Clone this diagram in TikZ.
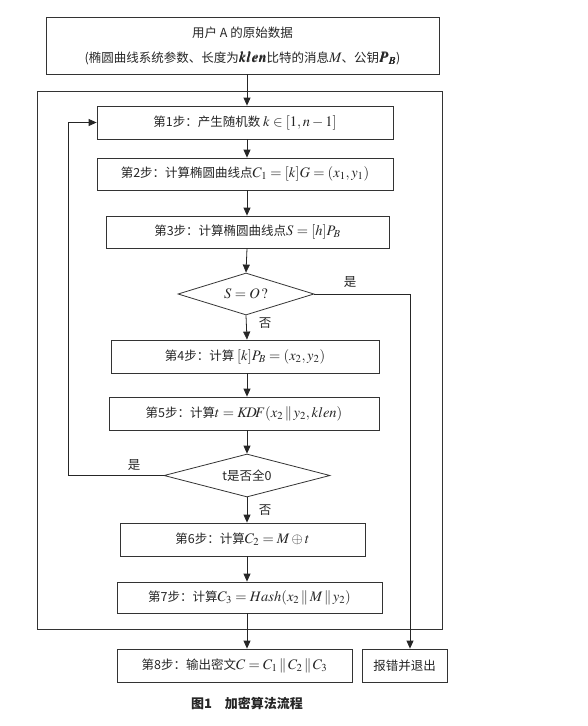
\documentclass[tikz,border=0pt]{standalone}
\usepackage{mathptmx}
\usepackage{bm}
\usepackage{fontspec}
\setmainfont{Noto Sans CJK SC}
\usetikzlibrary{positioning}
\usetikzlibrary{arrows.meta}
\usetikzlibrary{shapes.geometric}

\begin{document}
\begin{tikzpicture}[x=1pt,y=-1pt,
  stepbox/.style={draw=black!80,line width=0.8pt,inner sep=0pt,anchor=center,
    font=\fontsize{12.5}{15}\selectfont,text=black!85},
  decision/.style={draw=black!80,line width=0.8pt,diamond,inner sep=0pt,anchor=center,
    font=\fontsize{12.5}{15}\selectfont,text=black!85},
  arr/.style={line width=0.8pt,draw=black!85,-{Triangle[length=8pt,width=7pt]}},
  lab/.style={font=\fontsize{12.5}{15}\selectfont,text=black!85,anchor=center}]

\useasboundingbox (0,0) rectangle (588,726);

\def\sep{\,\|\,}
\def\mth#1{{\fontsize{14.5}{15}\selectfont$#1$}}

% input data
\node[stepbox,minimum width=393,minimum height=57,align=center,
  font=\fontsize{12.5}{25}\selectfont] (input) at (242.5,45.5)
  {用户 A 的原始数据\\(椭圆曲线系统参数、长度为\mth{\bm{klen}}比特的消息\mth{M}、公钥\mth{\bm{P_B}})};

% frame round the loop
\draw[draw=black!80,line width=0.8pt] (37,91) rectangle (442,629);

\coordinate (spine) at (247,0);
\coordinate (loop) at (68,0);
\coordinate (yesline) at (410,0);

\node[stepbox,minimum width=296,minimum height=33] (S1) at (245,122.5)
  {第1步：产生随机数 \mth{k\in[1,n-1]}};
\node[stepbox,minimum width=296,minimum height=32] (S2) at (245,174)
  {第2步：计算椭圆曲线点\mth{C_1=[k]G=(x_1,y_1)}};
\node[stepbox,minimum width=283,minimum height=32] (S3) at (247.5,232)
  {第3步：计算椭圆曲线点\mth{S=[h]P_B}};
\node[decision,minimum width=136,minimum height=42,aspect=3.2] (D1) at (246,294)
  {\mth{S=O\,?}};
\node[stepbox,minimum width=268,minimum height=33] (S4) at (245,356.5)
  {第4步：计算 \mth{[k]P_B=(x_2,y_2)}};
\node[stepbox,minimum width=270,minimum height=33] (S5) at (244,413.5)
  {第5步：计算\mth{t=K\!D\!F(x_2\sep y_2,klen)}};
\node[decision,minimum width=166,minimum height=43,aspect=3.9] (D2) at (247,475.5)
  {t是否全0};
\node[stepbox,minimum width=245,minimum height=33] (S6) at (242.5,539.5)
  {第6步：计算\mth{C_2=M\oplus t}};
\node[stepbox,minimum width=265,minimum height=31] (S7) at (249.5,597.5)
  {第7步：计算\mth{C_3=Hash(x_2\sep M\sep y_2)}};
\node[stepbox,minimum width=235,minimum height=33] (S8) at (234.5,665.5)
  {第8步：输出密文\mth{C=C_1\sep C_2\sep C_3}};
\node[stepbox,minimum width=85,minimum height=33] (quit) at (404.5,665.5)
  {报错并退出};

% labels
\node[lab] (yes1) at (350,282) {是};
\node[lab] (no1) at (265,323) {否};
\node[lab] (yes2) at (134,465) {是};
\node[lab] (no2) at (265,510) {否};
\node[lab,font=\fontsize{13}{15}\selectfont\bfseries] (caption) at (247,703) {图1\quad 加密算法流程};

% main flow
\draw[arr] (input.south -| spine) -- (S1.north -| spine);
\draw[arr] (S1.south -| spine) -- (S2.north -| spine);
\draw[arr] (S2.south -| spine) -- (S3.north -| spine);
\draw[arr] (S3.south -| spine) -- (D1.north);
\draw[arr] (D1.south) -- (S4.north -| spine);
\draw[arr] (S4.south -| spine) -- (S5.north -| spine);
\draw[arr] (S5.south -| spine) -- (D2.north);
\draw[arr] (D2.south) -- (S6.north -| spine);
\draw[arr] (S6.south -| spine) -- (S7.north -| spine);
\draw[arr] (S7.south -| spine) -- (S8.north -| spine);

% branches
\draw[arr] (D1.east) -| (yesline |- D1.east) -- (quit.north -| yesline);
\draw[arr] (D2.west) -| (loop |- S1.west) -- (S1.west);
\end{tikzpicture}
\end{document}
